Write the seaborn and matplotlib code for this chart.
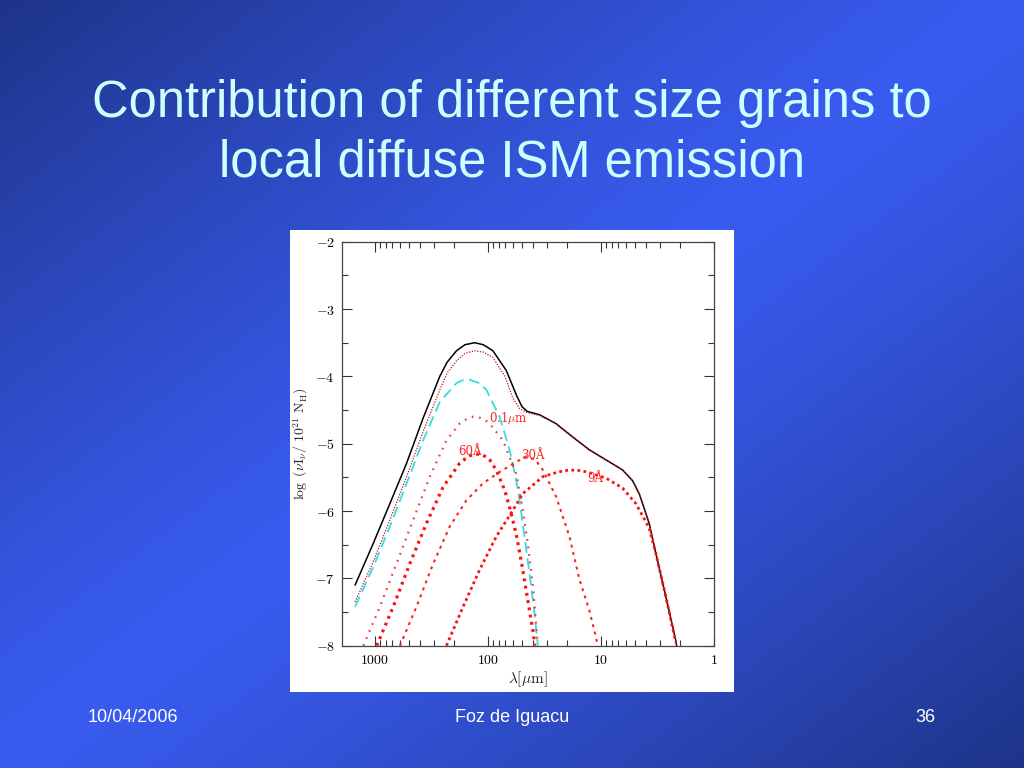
import numpy as np
import pandas as pd
import matplotlib
matplotlib.use("Agg")
import matplotlib.pyplot as plt
import seaborn as sns
from matplotlib.ticker import FuncFormatter, LogLocator, MultipleLocator, NullFormatter
from matplotlib.patches import Rectangle

# wavelength (micron) and log(nu I_nu / 1e21 N_H)
lam_total = [1500, 1035, 738, 525, 375, 267, 230, 190, 160, 131, 110, 90.4, 69, 56, 50, 45, 35,
             25.1, 17.8, 12.7, 9.04, 6.44, 5.25, 4.57, 3.75, 3.27, 2.67, 2.18, 2.14]
val_total = [-7.10, -6.48, -5.89, -5.29, -4.62, -4.00, -3.79, -3.62, -3.53, -3.50, -3.53, -3.62, -3.91,
             -4.28, -4.45, -4.52, -4.57, -4.70, -4.90, -5.09, -5.24, -5.39, -5.55, -5.75, -6.18,
             -6.63, -7.27, -7.92, -8.00]

lam_sum = [1500, 1035, 738, 525, 375, 267, 230, 190, 160, 131, 110, 90.4, 70.8, 60.3, 52.5, 44.7, 35,
           25.1, 17.8, 12.7, 9.04, 6.44, 5.25, 4.57, 3.75, 3.27, 2.67, 2.18, 2.14]
val_sum = [-7.35, -6.75, -6.13, -5.49, -4.82, -4.20, -3.95, -3.77, -3.66, -3.62, -3.64, -3.72, -4.00,
           -4.32, -4.48, -4.54, -4.58, -4.70, -4.90, -5.09, -5.24, -5.39, -5.55, -5.75, -6.18,
           -6.63, -7.27, -7.92, -8.00]

lam_big = [1500, 1035, 738, 525, 375, 267, 190, 170, 145, 120, 103.5, 78.9, 64.4, 56.2, 52.5, 49.1,
           42.9, 38.7, 36.2]
val_big = [-7.42, -6.83, -6.23, -5.59, -4.95, -4.38, -4.10, -4.06, -4.05, -4.10, -4.20, -4.60, -5.09,
           -5.55, -5.85, -6.20, -6.93, -7.52, -8.00]

lam_01 = [1268, 904, 644, 459, 327, 233, 178, 150, 131, 110, 96.6, 73.8, 56.2, 50.1, 44.7, 39.8, 36.7]
val_01 = [-8.00, -7.42, -6.78, -6.13, -5.49, -4.95, -4.70, -4.62, -4.59, -4.63, -4.70, -4.95, -5.45,
          -5.90, -6.45, -7.15, -7.90]

lam_60 = [966, 689, 491, 350, 249, 178, 150, 130, 110, 96.6, 84.5, 70.8, 63.1, 56.2, 50.1, 44.7,
          39.8, 38.5]
val_60 = [-8.00, -7.42, -6.78, -6.18, -5.64, -5.29, -5.19, -5.15, -5.17, -5.24, -5.39, -5.70, -6.00,
          -6.35, -6.80, -7.30, -7.80, -8.00]

lam_30 = [601, 429, 305, 218, 155, 111, 78.9, 56.2, 45.9, 38, 32.7, 24.9, 19, 15.5, 12.7, 11.1, 10.7]
val_30 = [-8.00, -7.42, -6.78, -6.23, -5.84, -5.59, -5.42, -5.27, -5.19, -5.24, -5.39, -5.79, -6.38,
          -7.02, -7.47, -7.87, -8.00]

lam_9 = [233, 166, 119, 84.5, 60.3, 49.1, 32.7, 24, 19, 15, 12.7, 9.04, 6.44, 4.91, 3.75, 3.27,
         2.67, 2.18]
val_9 = [-8.00, -7.42, -6.88, -6.38, -5.99, -5.74, -5.49, -5.42, -5.39, -5.40, -5.43, -5.51, -5.66,
         -5.89, -6.25, -6.63, -7.27, -7.95]

labels = ["0.1$\\mu$m", "60\u00c5", "30\u00c5", "9\u00c5"]
label_lam = [97, 184, 51, 13.1]
label_val = [-4.62, -5.12, -5.18, -5.52]

title_lines = ["Contribution of different size grains to", "local diffuse ISM emission"]
footer = ["10/04/2006", "Foz de Iguacu", "36"]

sns.set_style("ticks")
plt.rcParams["font.family"] = ["DejaVu Serif"]
plt.rcParams["mathtext.fontset"] = "cm"

fig = plt.figure(figsize=(10.24, 7.68), dpi=100)

# slide background: diagonal blue gradient
bg = fig.add_axes([0, 0, 1, 1], zorder=-10)
gx, gy = np.meshgrid(np.linspace(0, 1, 256), np.linspace(0, 1, 192))
t = np.abs(gx - (1 - gy)) ** 1.2
bright = np.array([57, 92, 240]) / 255
dark = np.array([30, 52, 136]) / 255
img = bright[None, None, :] * (1 - t[..., None]) + dark[None, None, :] * t[..., None]
bg.imshow(img, aspect="auto", extent=[0, 1, 0, 1], origin="upper")
bg.set_axis_off()

fig.patches.append(Rectangle((290 / 1024, 1 - 692 / 768), 444 / 1024, 462 / 768,
                             transform=fig.transFigure, facecolor="white",
                             edgecolor="none", zorder=-5))

for i, line in enumerate(title_lines):
    fig.text(0.5, 1 - (103 + 60 * i) / 768, line, ha="center", va="center",
             fontsize=36.5, color="#ccffff", family="Liberation Sans")

fig.text(88 / 1024, 1 - 718 / 768, footer[0], ha="left", va="center", fontsize=13,
         color="white", family="Liberation Sans")
fig.text(0.5, 1 - 718 / 768, footer[1], ha="center", va="center", fontsize=13,
         color="white", family="Liberation Sans")
fig.text(935 / 1024, 1 - 718 / 768, footer[2], ha="right", va="center", fontsize=13,
         color="white", family="Liberation Sans")

ax = fig.add_axes([341.7 / 1024, 1 - 645.7 / 768, 372.3 / 1024, 404 / 768])
ax.set_facecolor("white")

sns.lineplot(x=lam_total, y=val_total, ax=ax, color="black", lw=1.1, sort=False, estimator=None)
sns.lineplot(x=lam_sum, y=val_sum, ax=ax, color="#c0141e", lw=0.9, sort=False, estimator=None
             ).lines[-1].set_dashes((1, 1.2))
sns.lineplot(x=lam_big, y=val_big, ax=ax, color="#33dde0", lw=1.3, sort=False, estimator=None
             ).lines[-1].set_dashes((6, 3))
sns.lineplot(x=lam_01, y=val_01, ax=ax, color="#e8404a", lw=1.6, sort=False, estimator=None
             ).lines[-1].set_dashes((0.8, 2.6))
sns.lineplot(x=lam_60, y=val_60, ax=ax, color="#ff1010", lw=2.3, sort=False, estimator=None
             ).lines[-1].set_dashes((0.9, 1.4))
sns.lineplot(x=lam_30, y=val_30, ax=ax, color="#ff2020", lw=1.5, sort=False, estimator=None
             ).lines[-1].set_dashes((1.4, 2.2))
sns.lineplot(x=lam_9, y=val_9, ax=ax, color="#ff1010", lw=2.0, sort=False, estimator=None
             ).lines[-1].set_dashes((1.0, 1.2))

for lab, lx, ly in zip(labels, label_lam, label_val):
    ax.text(lx, ly, lab, color="#ff2020", fontsize=8.5, ha="left", va="center")

ax.set_xscale("log")
ax.set_xlim(1970, 1)
ax.set_ylim(-8, -2)
ax.xaxis.set_major_locator(LogLocator(base=10, numticks=10))
ax.xaxis.set_minor_locator(LogLocator(base=10, subs=np.arange(2, 10), numticks=20))
ax.xaxis.set_major_formatter(FuncFormatter(lambda v, p: f"${v:g}$"))
ax.xaxis.set_minor_formatter(NullFormatter())
ax.yaxis.set_major_locator(MultipleLocator(1))
ax.yaxis.set_minor_locator(MultipleLocator(0.5))
ax.yaxis.set_major_formatter(FuncFormatter(lambda v, p: f"${v:g}$"))
ax.tick_params(which="both", direction="in", top=True, right=True, colors="#333333",
               labelcolor="black", labelsize=10, width=0.8)
ax.tick_params(which="major", length=7, pad=5)
ax.tick_params(which="minor", length=4)
for s in ax.spines.values():
    s.set_color("#444444")
    s.set_linewidth(0.9)

ax.set_xlabel("$\\lambda[\\mu\\mathrm{m}]$", fontsize=11, labelpad=2)
ax.set_ylabel("$\\log\\ (\\nu \\mathrm{I}_\\nu /\\ 10^{21}\\ \\mathrm{N_H})$", fontsize=10, labelpad=4)

fig.savefig("out.png", dpi=100)
